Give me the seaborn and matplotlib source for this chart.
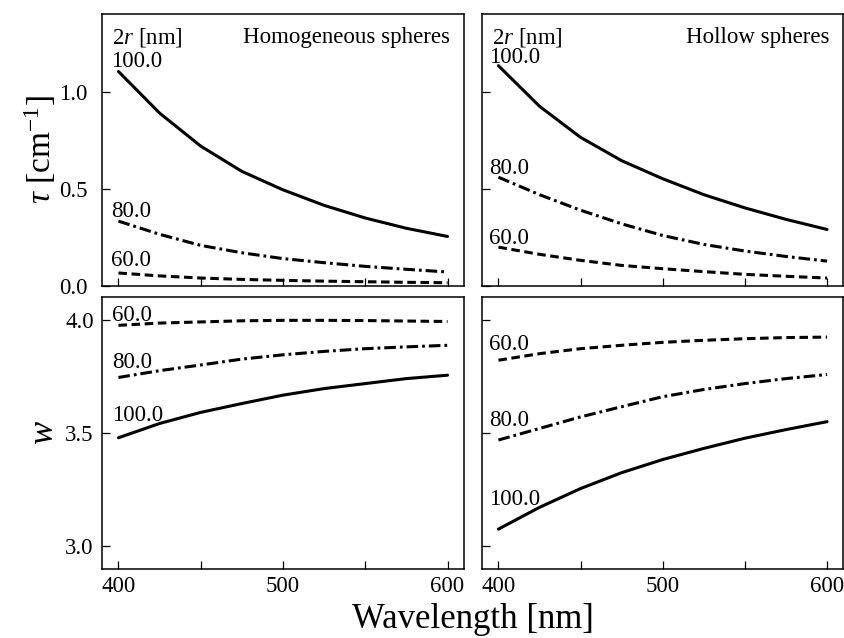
import matplotlib
matplotlib.use("Agg")
import matplotlib.pyplot as plt
import numpy as np
import pandas as pd
import seaborn as sns
from matplotlib.ticker import MultipleLocator, FormatStrFormatter

# ---------------- data ----------------
wavelength = [400, 425, 450, 475, 500, 525, 550, 575, 600]
diameter_labels = ["100.0", "80.0", "60.0"]

tau_hom_100 = [1.104, 0.890, 0.720, 0.590, 0.495, 0.415, 0.350, 0.297, 0.255]
tau_hom_80 = [0.334, 0.266, 0.209, 0.171, 0.141, 0.120, 0.101, 0.086, 0.072]
tau_hom_60 = [0.067, 0.052, 0.041, 0.034, 0.029, 0.025, 0.022, 0.019, 0.017]

tau_hol_100 = [1.134, 0.925, 0.765, 0.645, 0.552, 0.470, 0.402, 0.343, 0.291]
tau_hol_80 = [0.560, 0.470, 0.390, 0.320, 0.260, 0.214, 0.180, 0.152, 0.128]
tau_hol_60 = [0.200, 0.163, 0.132, 0.106, 0.089, 0.074, 0.060, 0.050, 0.041]

w_hom_100 = [3.479, 3.542, 3.591, 3.630, 3.667, 3.696, 3.718, 3.740, 3.755]
w_hom_80 = [3.745, 3.775, 3.800, 3.826, 3.845, 3.860, 3.872, 3.880, 3.887]
w_hom_60 = [3.975, 3.985, 3.990, 3.995, 3.997, 3.997, 3.996, 3.994, 3.992]

w_hol_100 = [3.076, 3.172, 3.255, 3.325, 3.383, 3.432, 3.477, 3.515, 3.550]
w_hol_80 = [3.469, 3.520, 3.571, 3.616, 3.660, 3.692, 3.718, 3.740, 3.758]
w_hol_60 = [3.821, 3.850, 3.872, 3.887, 3.900, 3.909, 3.916, 3.921, 3.923]

panel_titles = ["Homogeneous spheres", "Hollow spheres"]

# ---------------- style ----------------
sns.set_theme(style="ticks")
plt.rcParams["font.family"] = ["Liberation Serif", "DejaVu Serif"]
plt.rcParams["mathtext.fontset"] = "custom"
plt.rcParams["mathtext.rm"] = "Liberation Serif"
plt.rcParams["mathtext.it"] = "Liberation Serif:italic"
plt.rcParams["mathtext.bf"] = "Liberation Serif:bold"
for k in ["text.color", "axes.labelcolor", "xtick.color", "ytick.color", "axes.edgecolor"]:
    plt.rcParams[k] = "black"

fig = plt.figure(figsize=(8.45, 6.38), dpi=100)
W, H = 845.0, 638.0


def axes_px(left, top, right, bottom):
    return fig.add_axes([left / W, 1 - bottom / H, (right - left) / W, (bottom - top) / H])


ax_tl = axes_px(102, 14, 464, 286)
ax_tr = axes_px(482, 14, 843.5, 286)
ax_bl = axes_px(102, 297, 464, 569)
ax_br = axes_px(482, 297, 843.5, 569)

styles = ["-", (0, (3.8, 1.3, 0.9, 1.3)), (0, (2.8, 1.5))]
lw = 2.2

panels = [
    (ax_tl, [tau_hom_100, tau_hom_80, tau_hom_60], [(-7, 5), (-7, 4), (-7, 7)]),
    (ax_tr, [tau_hol_100, tau_hol_80, tau_hol_60], [(-9, 3), (-9, 3), (-9, 3)]),
    (ax_bl, [w_hom_100, w_hom_80, w_hom_60], [(-6, 17), (-6, 9), (-6, 4)]),
    (ax_br, [w_hol_100, w_hol_80, w_hol_60], [(-9, 24), (-9, 14), (-9, 10)]),
]

fs = 16.5
for ax, series, offsets in panels:
    for vals, ls, lab, off in zip(series, styles, diameter_labels, offsets):
        df = pd.DataFrame({"wavelength": wavelength, "value": vals})
        sns.lineplot(data=df, x="wavelength", y="value", ax=ax, color="black",
                     linewidth=lw, linestyle=ls, errorbar=None)
        ax.annotate(lab, xy=(wavelength[0], vals[0]), xytext=(off[0] * 0.72, off[1] * 0.72),
                    textcoords="offset points", ha="left", va="baseline", fontsize=fs)
    ax.set_xlim(390, 610)
    ax.xaxis.set_major_locator(MultipleLocator(100))
    ax.xaxis.set_minor_locator(MultipleLocator(50))
    ax.tick_params(axis="both", which="both", direction="in", width=0.9,
                   labelsize=fs, top=False, right=False)
    ax.tick_params(axis="both", which="major", length=5.5)
    ax.tick_params(axis="x", which="minor", length=5.5)
    ax.tick_params(axis="x", pad=5)
    ax.set_xlabel("")
    ax.set_ylabel("")
    for sp in ax.spines.values():
        sp.set_linewidth(1.1)
        sp.set_color("black")

for ax in (ax_tl, ax_tr):
    ax.set_ylim(0, 1.4)
    ax.yaxis.set_major_locator(MultipleLocator(0.5))
    ax.tick_params(axis="x", labelbottom=False)
for ax in (ax_bl, ax_br):
    ax.set_ylim(2.9, 4.1)
    ax.yaxis.set_major_locator(MultipleLocator(0.5))
for ax in (ax_tl, ax_bl):
    ax.yaxis.set_major_formatter(FormatStrFormatter("%.1f"))
ax_tl.tick_params(axis="y", pad=10.5)
ax_bl.tick_params(axis="y", pad=6)
for ax in (ax_tr, ax_br):
    ax.tick_params(axis="y", labelleft=False)

# header texts
for ax, title in zip((ax_tl, ax_tr), panel_titles):
    ax.text(0.027, 0.893, r"2$r$ [nm]", transform=ax.transAxes, ha="left",
            va="baseline", fontsize=fs)
    ax.text(0.96, 0.893, title, transform=ax.transAxes, ha="right",
            va="baseline", fontsize=fs)

# axis labels
ax_tl.set_ylabel(r"$\tau$ [cm$^{\mathrm{-1}}$]", fontsize=24, va="center")
ax_tl.yaxis.set_label_coords(-0.171, 0.5)
ax_bl.set_ylabel(r"$w$", fontsize=25, va="center")
ax_bl.yaxis.set_label_coords(-0.16, 0.5)
fig.text(473 / W, 1 - 628 / H, "Wavelength [nm]", ha="center", va="baseline", fontsize=25)

fig.savefig("out.png", dpi=100)
